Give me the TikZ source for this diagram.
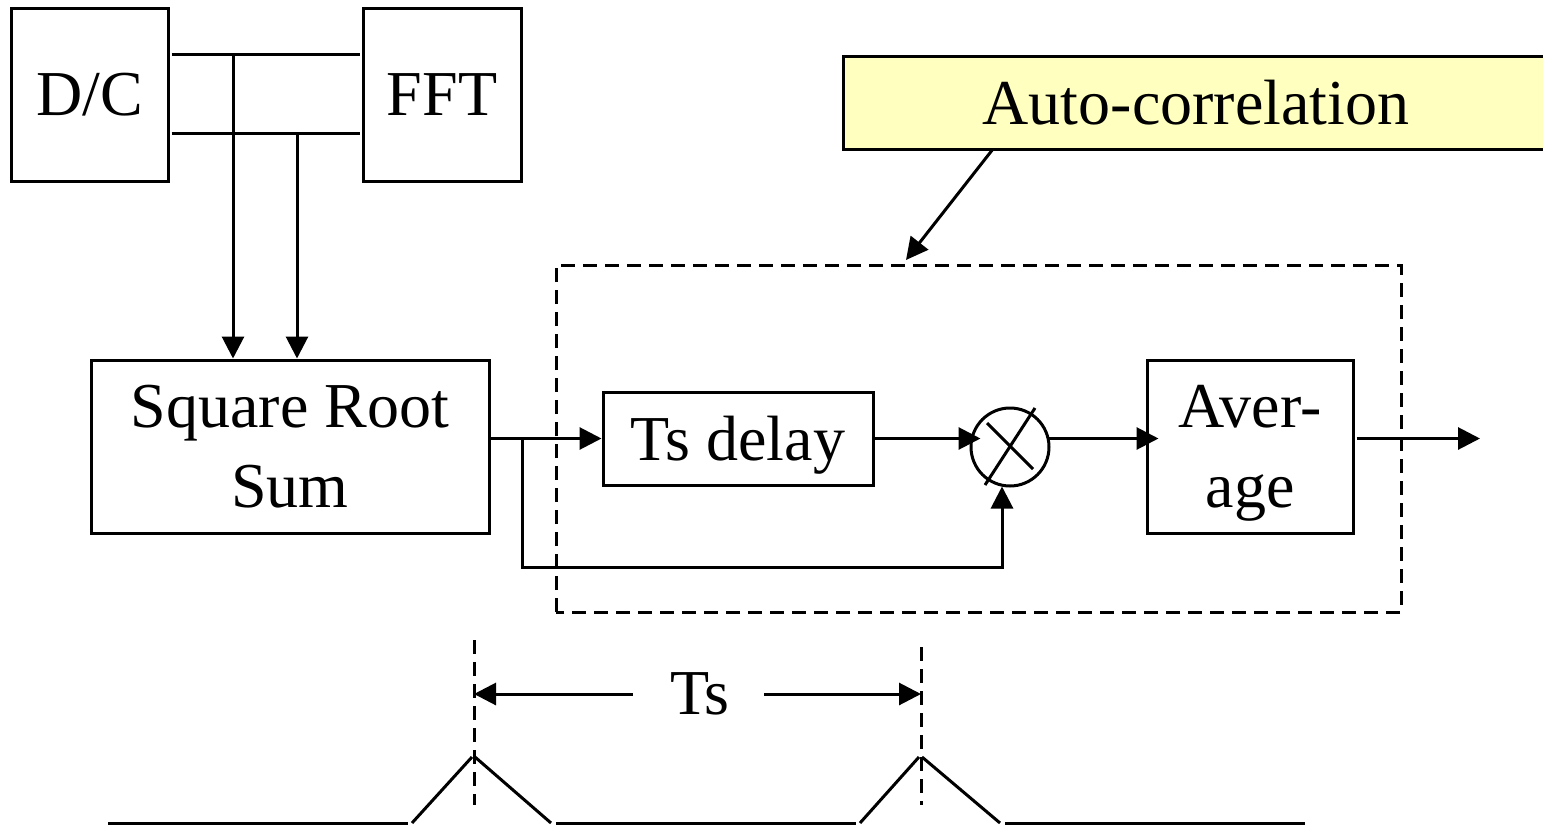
\documentclass[tikz,border=0pt]{standalone}
\usepackage{fontspec}
\setmainfont{Liberation Serif}
\usetikzlibrary{arrows.meta,calc}
\definecolor{notefill}{RGB}{255,255,192}
\begin{document}
\begin{tikzpicture}[x=0.5pt,y=-0.5pt,
  line width=1.5pt,
  txt/.style={font=\fontsize{32}{40}\selectfont,align=center,inner sep=0pt},
  blk/.style={txt,draw,line width=1.5pt,text depth=0pt},
  arr/.style={-{Triangle[length=11pt,width=11pt]}},
  dsh/.style={line width=1.5pt,dash pattern=on 7pt off 4pt}]
\useasboundingbox (0,0) rectangle (1543,825);

% front-end blocks
\node[blk,minimum width=78.5pt,minimum height=86.5pt] (dc) at (89.5,94.5) {D/C};
\node[blk,minimum width=79pt,minimum height=86.5pt] (fft) at (442,94.5) {FFT};
\node[blk,minimum width=199pt,minimum height=86.5pt] (srs) at (290,446.5) {Square Root\\Sum};

% auto-correlation blocks
\node[blk,minimum width=135pt,minimum height=46.5pt] (ts) at (738,438.5) {Ts delay};
\node[draw,circle,line width=1.5pt,minimum size=39pt,inner sep=0pt] (mul) at (1010,447) {};
\draw ($(mul.center)+(-23,-24)$) -- ($(mul.center)+(23,22)$);
\draw ($(mul.center)+(25,-39)$) -- ($(mul.center)+(-25,38)$);
\node[blk,minimum width=103pt,minimum height=86.5pt] (avg) at (1250,446.5) {Aver-\\age};

% callout
\node[txt,draw,fill=notefill,minimum width=353pt,minimum height=46.5pt] (auto) at (1196,102.5) {Auto-correlation};
\coordinate (acbl) at (556,612);
\coordinate (actr) at (1401,265);
\draw[dsh] (acbl) rectangle (actr);
\coordinate (acpt) at (906,260);
\draw[arr] (993,149) -- (acpt);

% bus between D/C and FFT
\draw ($(dc.east |- 0,54)+(2,0)$) -- ($(fft.west |- 0,54)+(-2,0)$);
\draw ($(dc.east |- 0,133)+(2,0)$) -- ($(fft.west |- 0,133)+(-2,0)$);
\coordinate (j1) at (233,54);
\coordinate (j2) at (297,133);
\draw[arr] (j1) -- (j1 |- srs.north);
\draw[arr] (j2) -- (j2 |- srs.north);

% signal path
\draw[arr] (srs.east |- ts.west) -- (ts.west);
\coordinate (br) at (522,438.5);
\coordinate (brl) at (522,567);
\coordinate (brr) at (1002,567);
\draw[arr] (br) -- (brl) -- (brr) -- ($(mul.south)+(-8,-1)$);
\draw[arr] (ts.east) -- ($(ts.east -| mul.west)+(11,0)$);
\draw[arr] ($(mul.east |- ts.east)+(-2,0)$) -- ($(avg.west |- ts.east)+(13,0)$);
\coordinate (out) at (1480,438.5);
\draw[arr] ($(avg.east |- ts.east)+(2,0)$) -- (out);

% timing
\coordinate (t1) at (474,640);
\coordinate (t1b) at (474,805);
\coordinate (t2) at (921,647);
\coordinate (t2b) at (921,805);
\draw[dsh] (t1) -- (t1b);
\draw[dsh] (t2) -- (t2b);
\node[txt] (tsl) at (700,694) {Ts};
\draw[arr] ($(tsl.west)+(-36,0)$) -- (t1 |- tsl);
\draw[arr] ($(tsl.east)+(33,0)$) -- (t2 |- tsl);

% pulse waveform
\draw (108,823) -- (408,823);
\draw (412,823) -- (472,757);
\draw (475,757) -- (551,823);
\draw (556,823) -- (856,823);
\draw (860,823) -- (919,757);
\draw (922,757) -- (1000,823);
\draw (1005,823) -- (1305,823);
\end{tikzpicture}
\end{document}
